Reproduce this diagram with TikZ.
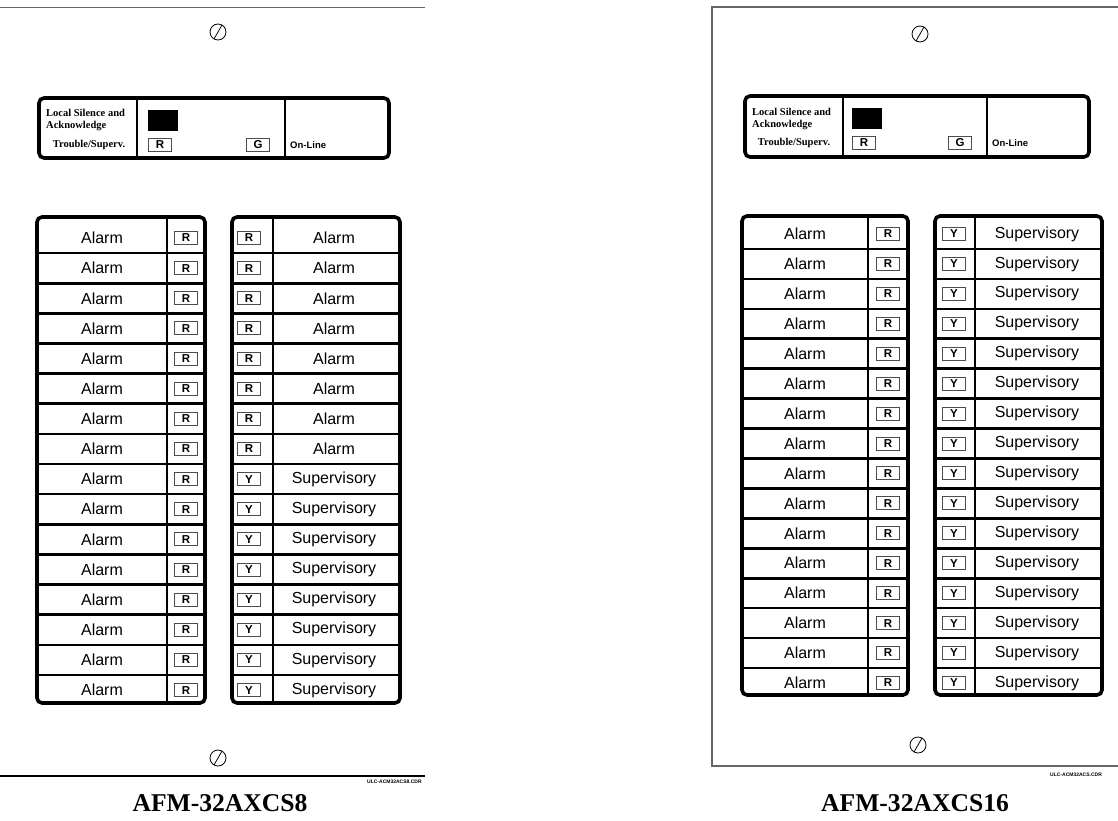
\documentclass[tikz,border=0pt]{standalone}
\usepackage{fontspec}
\setmainfont{Liberation Serif}
\setsansfont{Liberation Sans}
\usetikzlibrary{positioning}
\def\screw(#1,#2)% Syntax: (centre x, centre y) in picture units
    { \draw[line width=0.8pt] (#1,#2) circle (8pt) ({#1-4},{#2+7}) -- ({#1+4},{#2-7}); }
\tikzset{
  frame line/.style={draw=black!60, line width=1.8pt},
  group box/.style={line width=3.6pt, rounded corners=5pt},
  rule line/.style={line width=2.6pt},
  led/.style={draw=black!70, line width=0.9pt, inner sep=0pt, minimum width=23pt,
    minimum height=13pt, font=\sffamily\bfseries\fontsize{11.5}{11.5}\selectfont},
  zone/.style={font=\sffamily\fontsize{16}{16}\selectfont},
  legend text/.style={font=\bfseries\fontsize{10.5}{10.5}\selectfont, inner sep=0pt},
  online/.style={font=\sffamily\bfseries\fontsize{9.5}{10}\selectfont, anchor=west, inner sep=0pt},
  tiny tag/.style={font=\sffamily\bfseries\fontsize{5}{5}\selectfont, anchor=west, inner sep=0pt},
  model/.style={font=\bfseries\fontsize{25.6}{26}\selectfont}
}
\begin{document}
\begin{tikzpicture}[x=1pt,y=-1pt]
  \useasboundingbox (0,0) rectangle (1118,821);

  % AFM-32AXCS8
  \draw[frame line] (0,7.5) -- (425,7.5);
  \draw[line width=1.6pt] (0,776) -- (425,776);
  \screw(218,32)
  \screw(218,758)

  \draw[group box] (39,98) rectangle (389,158);
  \draw[rule line] (137,98) -- (137,158) (285,98) -- (285,158);
  \fill (148,110) rectangle (178,131);
  \node[led] (s8-trbl) at (160,145) {R};
  \node[led] (s8-pwr) at (258,145) {G};
  \node[legend text, anchor=west] (s8-sil) at (46,113) {Local Silence and};
  \node[legend text, anchor=west] (s8-ack) at (46,126) {Acknowledge};
  \node[legend text] (s8-sup) at (89,145) {Trouble/Superv.};
  \node[online] (s8-on) at (290,145) {On-Line};

  \draw[group box] (37,217) rectangle (205,703);
  \draw[rule line] (167,217) -- (167,703);
  \draw[group box] (232,217) rectangle (400,703);
  \draw[rule line] (273,217) -- (273,703);
  \foreach \i in {1,...,16}{
    \pgfmathsetmacro\yc{238+30.14*(\i-1)}
    \ifnum\i<16 \draw[rule line] (37,\yc+15.07) -- (205,\yc+15.07) (232,\yc+15.07) -- (400,\yc+15.07); \fi
    \ifnum\i<9 \def\lab{Alarm}\def\ledc{R}\else \def\lab{Supervisory}\def\ledc{Y}\fi
    \node[zone] (s8a-\i) at (102,\yc) {Alarm};
    \node[led] (s8ar-\i) at (186,\yc) {R};
    \node[led] (s8bl-\i) at (249,\yc) {\ledc};
    \node[zone] (s8b-\i) at (334,\yc) {\lab};
  }
  \node[tiny tag] (s8-tag) at (367,782) {ULC-ACM32ACS8.CDR};
  \node[model] (s8-name) at (220,803) {AFM-32AXCS8};

  % AFM-32AXCS16
  \draw[frame line] (1130,7) -- (712,7) -- (712,766) -- (1130,766);
  \screw(920,34)
  \screw(918,745)

  \draw[group box] (745,96) rectangle (1089,157);
  \draw[rule line] (843,96) -- (843,157) (987,96) -- (987,157);
  \fill (852,108) rectangle (882,129);
  \node[led] (s16-trbl) at (864,143) {R};
  \node[led] (s16-pwr) at (960,143) {G};
  \node[legend text, anchor=west] (s16-sil) at (752,112) {Local Silence and};
  \node[legend text, anchor=west] (s16-ack) at (752,125) {Acknowledge};
  \node[legend text] (s16-sup) at (794,143) {Trouble/Superv.};
  \node[online] (s16-on) at (992,143) {On-Line};

  \draw[group box] (742,216) rectangle (908,695);
  \draw[rule line] (868,216) -- (868,695);
  \draw[group box] (935,216) rectangle (1102,695);
  \draw[rule line] (975,216) -- (975,695);
  \foreach \i in {1,...,16}{
    \pgfmathsetmacro\yc{234+29.93*(\i-1)}
    \ifnum\i<16 \draw[rule line] (742,\yc+15) -- (908,\yc+15) (935,\yc+15) -- (1102,\yc+15); \fi
    \node[zone] (s16a-\i) at (805,\yc) {Alarm};
    \node[led] (s16ar-\i) at (888,\yc) {R};
    \node[led] (s16bl-\i) at (954,\yc) {Y};
    \node[zone] (s16b-\i) at (1037,\yc) {Supervisory};
  }
  \node[tiny tag] (s16-tag) at (1050,775) {ULC-ACM32ACS.CDR};
  \node[model] (s16-name) at (915,803) {AFM-32AXCS16};
\end{tikzpicture}
\end{document}
